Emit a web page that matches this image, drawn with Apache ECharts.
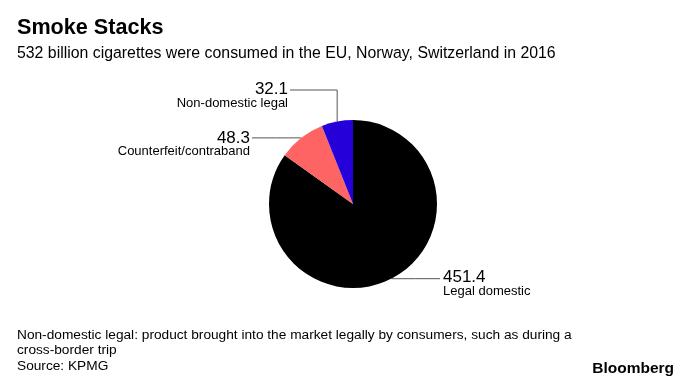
<!DOCTYPE html>
<html>
<head>
<meta charset="utf-8">
<script src="https://cdn.jsdelivr.net/npm/echarts@6/dist/echarts.min.js"></script>
<style>
html,body{margin:0;padding:0;background:#fff;}
#chart{width:700px;height:387px;}
</style>
</head>
<body>
<div id="chart"></div>
<script>
// Data
var categories = ['Legal domestic', 'Counterfeit/contraband', 'Non-domestic legal'];
var values = [451.4, 48.3, 32.1];
var colors = ['#000000', '#ff6464', '#2600d9'];

var titleText = 'Smoke Stacks';
var subtitleText = '532 billion cigarettes were consumed in the EU, Norway, Switzerland in 2016';
var footnoteText = 'Non-domestic legal: product brought into the market legally by consumers, such as during a\ncross-border trip\nSource: KPMG';
var brandText = 'Bloomberg';

var FONT = '"Liberation Sans", Arial, Helvetica, sans-serif';

// label layout settings (per slice index)
var labelCfg = [
  {lineEndX: 440, labelX: 443, align: 'left', top: 270, elbow: false},
  {lineEndX: 252, labelX: 250, align: 'right', top: 130.5, elbow: false},
  {lineEndX: 290, labelX: 288, align: 'right', top: 82, elbow: true, elbowY: 90}
];

var chart = echarts.init(document.getElementById('chart'), null, {renderer: 'canvas'});

var option = {
  backgroundColor: '#ffffff',
  animation: false,
  title: [
    {text: titleText, left: 17, top: 17.5, padding: 0,
     textStyle: {fontFamily: FONT, fontSize: 21.6, fontWeight: 'bold', color: '#000'}},
    {text: subtitleText, left: 17, top: 45.5, padding: 0,
     textStyle: {fontFamily: FONT, fontSize: 15.85, fontWeight: 'normal', color: '#000'}},
    {text: footnoteText, left: 17, top: 327, padding: 0,
     textStyle: {fontFamily: FONT, fontSize: 13.7, fontWeight: 'normal', color: '#000', lineHeight: 15.5}},
    {text: brandText, right: 26, top: 360.5, padding: 0,
     textStyle: {fontFamily: FONT, fontSize: 15.5, fontWeight: 'bold', color: '#000'}}
  ],
  series: [{
    type: 'pie',
    center: [353, 204],
    radius: [0, 84],
    startAngle: 90,
    clockwise: true,
    silent: true,
    emphasis: {disabled: true},
    itemStyle: {borderWidth: 0},
    label: {
      show: true,
      position: 'outside',
      formatter: function (p) { return '{v|' + p.value + '}\n{n|' + p.name + '}'; },
      rich: {
        v: {fontFamily: FONT, fontSize: 17, lineHeight: 15, color: '#000'},
        n: {fontFamily: FONT, fontSize: 13, lineHeight: 12, color: '#000'}
      }
    },
    labelLine: {
      show: true,
      length: 10,
      length2: 10,
      lineStyle: {color: '#555555', width: 1}
    },
    labelLayout: function (params) {
      var c = labelCfg[params.dataIndex];
      var p0 = params.labelLinePoints[0];
      var pts;
      if (c.elbow) {
        pts = [[p0[0], p0[1]], [p0[0], c.elbowY], [c.lineEndX, c.elbowY]];
      } else {
        pts = [[p0[0], p0[1]], [(p0[0] + c.lineEndX) / 2, p0[1]], [c.lineEndX, p0[1]]];
      }
      return {
        x: c.labelX,
        y: c.top,
        align: c.align,
        verticalAlign: 'top',
        labelLinePoints: pts
      };
    },
    data: categories.map(function (name, i) {
      return {name: name, value: values[i], itemStyle: {color: colors[i]}};
    })
  }]
};
chart.setOption(option);
</script>
</body>
</html>
